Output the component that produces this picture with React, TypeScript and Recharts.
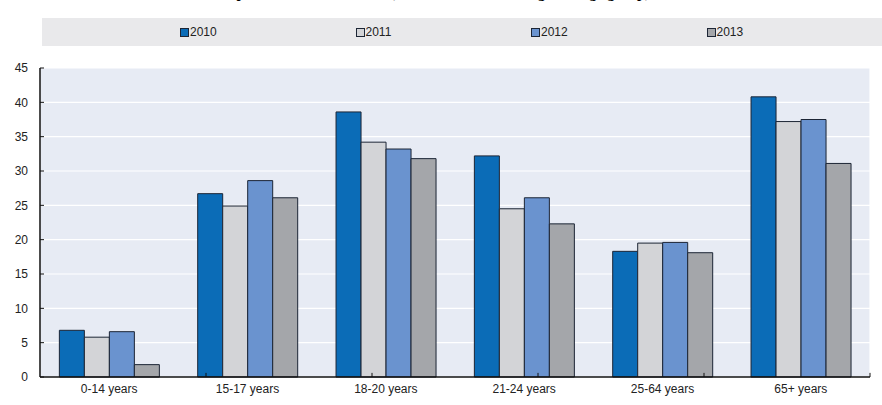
import React from "react";
import {
  BarChart,
  Bar,
  XAxis,
  YAxis,
  CartesianGrid,
  Legend,
  ReferenceLine,
} from "recharts";

const categories = ["0-14 years", "15-17 years", "18-20 years", "21-24 years", "25-64 years", "65+ years"];
const series2010 = [6.8, 26.7, 38.6, 32.2, 18.3, 40.8];
const series2011 = [5.8, 24.9, 34.2, 24.5, 19.5, 37.2];
const series2012 = [6.6, 28.6, 33.2, 26.1, 19.6, 37.5];
const series2013 = [1.8, 26.1, 31.8, 22.3, 18.1, 31.1];
const yTicks = [0, 5, 10, 15, 20, 25, 30, 35, 40, 45];
const boundaryTicks = [1, 2, 3, 4, 5];
const seriesNames = ["2010", "2011", "2012", "2013"];
const seriesColors = ["#0b6cb7", "#d3d4d7", "#6a93cf", "#a4a6aa"];
const titleText = "Share of persons with low income, in the total and among each age group, 2010-13";

const data = categories.map((c, i) => ({
  name: c,
  "2010": series2010[i],
  "2011": series2011[i],
  "2012": series2012[i],
  "2013": series2013[i],
}));

const FONT = "'Liberation Sans Narrow', 'Arial Narrow', 'Liberation Sans', Arial, sans-serif";
const STROKE = "#1c2535";

const YTick = (props: any) => {
  const { x, y, payload } = props;
  return (
    <g>
      <line x1={x + 12} x2={x + 16} y1={y} y2={y} stroke="#111" strokeWidth={1} />
      <text x={x} y={y} dy="0.355em" textAnchor="end" fontSize={12} fontFamily={FONT} fill="#222">
        {payload.value}
      </text>
    </g>
  );
};

const LegendContent = () => (
  <div
    style={{
      display: "flex",
      alignItems: "center",
      height: 28,
      paddingLeft: 138,
      boxSizing: "border-box",
      fontFamily: FONT,
      fontSize: 12,
      color: "#222",
    }}
  >
    {seriesNames.map((n, i) => (
      <div key={n} style={{ width: 177, display: "flex", alignItems: "center" }}>
        <span
          style={{
            display: "inline-block",
            width: 7,
            height: 7,
            background: seriesColors[i],
            border: `1px solid ${STROKE}`,
            marginRight: 1,
          }}
        />
        <span>{n}</span>
      </div>
    ))}
  </div>
);

export default function App() {
  return (
    <div style={{ position: "relative", width: 882, height: 405, background: "#fff", overflow: "hidden" }}>
      <style>{`body{margin:0}`}</style>
      <div
        style={{
          position: "absolute",
          left: 0,
          width: 882,
          top: -14,
          textAlign: "center",
          fontFamily: "'Liberation Serif', 'Times New Roman', serif",
          fontWeight: "bold",
          fontSize: 15,
          lineHeight: "15px",
          color: "#000",
          whiteSpace: "nowrap",
        }}
      >
        {titleText}
      </div>
      <BarChart
        width={882}
        height={405}
        data={data}
        margin={{ top: 40, right: 12, bottom: 0, left: 0 }}
        barCategoryGap="14%"
        barGap={0}
      >
        <XAxis
          xAxisId="b"
          type="number"
          orientation="top"
          domain={[0, 6]}
          ticks={boundaryTicks}
          tick={false}
          tickLine={false}
          height={0}
          axisLine={{ stroke: "#555", strokeWidth: 1 }}
        />
        <CartesianGrid xAxisId="b" stroke="#ffffff" strokeWidth={1.2} fill="#e7ebf4" />
        <XAxis
          dataKey="name"
          height={28}
          tickLine={false}
          tickSize={0}
          tickMargin={7}
          interval={0}
          axisLine={{ stroke: "#111", strokeWidth: 1.5 }}
          tick={{ fontSize: 12, fontFamily: FONT, fill: "#222" }}
        />
        <YAxis
          width={40}
          domain={[0, 45]}
          ticks={yTicks}
          tickLine={false}
          tickSize={0}
          tickMargin={12}
          interval={0}
          axisLine={{ stroke: "#111", strokeWidth: 1.5 }}
          tick={<YTick />}
        />
        <Legend
          verticalAlign="top"
          content={<LegendContent />}
          wrapperStyle={{ position: "absolute", top: 18, left: 42, width: 840, height: 28, background: "#e9e9eb" }}
        />
        {seriesNames.map((n, i) => (
          <Bar
            key={n}
            dataKey={n}
            fill={seriesColors[i]}
            stroke={STROKE}
            strokeWidth={1}
            isAnimationActive={false}
          />
        ))}
        {boundaryTicks.map((b) => (
          <ReferenceLine
            key={b}
            xAxisId="b"
            segment={[
              { x: b, y: 0 },
              { x: b, y: 0.6 },
            ]}
            stroke="#111"
            strokeWidth={1}
          />
        ))}
      </BarChart>
    </div>
  );
}
